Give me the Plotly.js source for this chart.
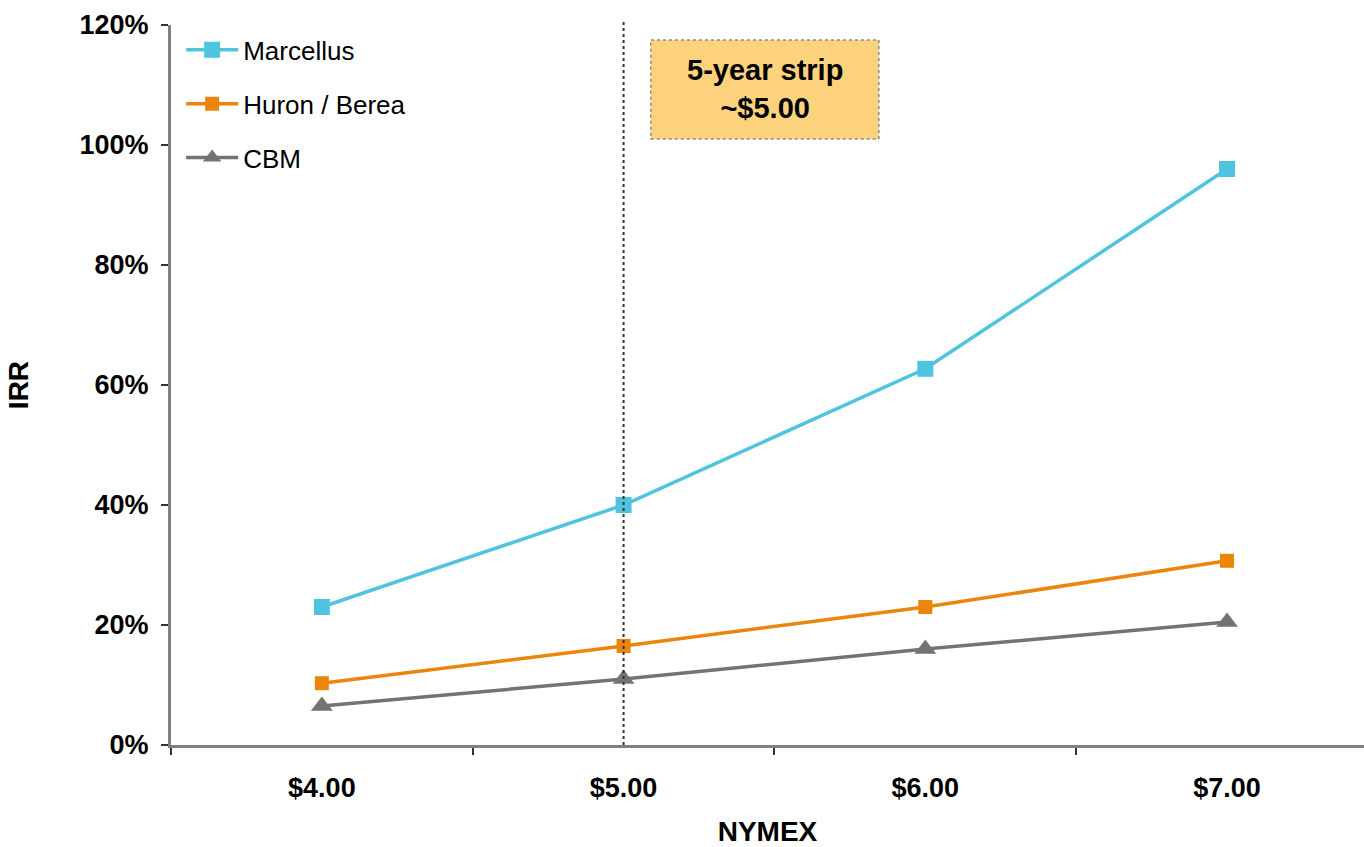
<!DOCTYPE html>
<html>
<head>
<meta charset="utf-8">
<script src="https://cdn.plot.ly/plotly-3.0.1.min.js"></script>
<style>html,body{margin:0;padding:0;background:#fff;}#chart{width:1364px;height:847px;}</style>
</head>
<body>
<div id="chart"></div>
<script>
const categories = ['$4.00', '$5.00', '$6.00', '$7.00'];
const marcellus = [23, 40, 62.7, 96];
const huronBerea = [10.3, 16.5, 23, 30.7];
const cbm = [6.5, 11, 16, 20.5];
const yTicks = [0, 20, 40, 60, 80, 100, 120];
const stripPrice = '$5.00';

const font = 'Liberation Sans, Arial, sans-serif';

const traces = [
  {x: categories, y: marcellus, name: 'Marcellus', mode: 'lines+markers', legendgroup: 'a',
   line: {color: '#4FC4E1', width: 3.5}, marker: {symbol: 'square', size: 16, color: '#4FC4E1'}},
  {x: categories, y: huronBerea, name: 'Huron / Berea', mode: 'lines+markers', legendgroup: 'b',
   line: {color: '#EA860B', width: 3.5}, marker: {symbol: 'square', size: 14, color: '#EA860B'}},
  {x: categories, y: cbm, name: 'CBM', mode: 'lines+markers', legendgroup: 'c',
   line: {color: '#737373', width: 3.5}, marker: {symbol: 'triangle-up', size: 19, color: '#737373'}}
];

const layout = {
  width: 1364, height: 847,
  margin: {l: 171, r: 0, t: 25, b: 102},
  paper_bgcolor: '#fff', plot_bgcolor: '#fff',
  font: {family: font, color: '#000'},
  showlegend: true,
  legend: {x: 0.0085, y: 0.998, xanchor: 'left', yanchor: 'top', orientation: 'v',
           font: {family: font, size: 26, color: '#000'}, tracegroupgap: 17,
           itemwidth: 52, bgcolor: 'rgba(0,0,0,0)'},
  xaxis: {
    type: 'category', range: [-0.5, 3.454], tickson: 'boundaries',
    showline: true, linecolor: '#808080', linewidth: 3,
    ticks: 'outside', ticklen: 7, tickcolor: '#333', tickwidth: 2,
    ticklabelstandoff: 17,
    showgrid: false, zeroline: false,
    tickfont: {family: font, size: 27, color: '#000', weight: 'bold'},
    title: {text: '<b>NYMEX</b>', font: {family: font, size: 28, color: '#000'}, standoff: 24}
  },
  yaxis: {
    range: [0, 120], tickvals: yTicks, ticktext: yTicks.map(v => '<b>' + v + '%</b>'),
    showline: true, linecolor: '#808080', linewidth: 3,
    ticks: 'outside', ticklen: 7, tickcolor: '#333', tickwidth: 2,
    ticklabelstandoff: 7,
    showgrid: false, zeroline: false,
    tickfont: {family: font, size: 27, color: '#000'},
    title: {text: '<b>IRR</b>', font: {family: font, size: 28, color: '#000'}, standoff: 43}
  },
  shapes: [
    {type: 'line', xref: 'x', yref: 'paper', x0: stripPrice, x1: stripPrice, y0: 0, y1: 1.007,
     line: {color: '#333', width: 2, dash: 'dot'}},
    {type: 'rect', xref: 'x', yref: 'y', x0: 1.09, x1: 1.846, y0: 101, y1: 117.5,
     fillcolor: '#FCD37C', line: {color: '#8a8a8a', width: 1.5, dash: 'dot'}, layer: 'below'}
  ],
  annotations: [
    {xref: 'x', yref: 'y', x: 1.468, y: 109.3, showarrow: false,
     text: '<b>5-year strip<br>~$5.00</b>', align: 'center',
     font: {family: font, size: 29, color: '#000'}}
  ]
};

Plotly.newPlot('chart', traces, layout, {displayModeBar: false, staticPlot: true});
</script>
</body>
</html>
